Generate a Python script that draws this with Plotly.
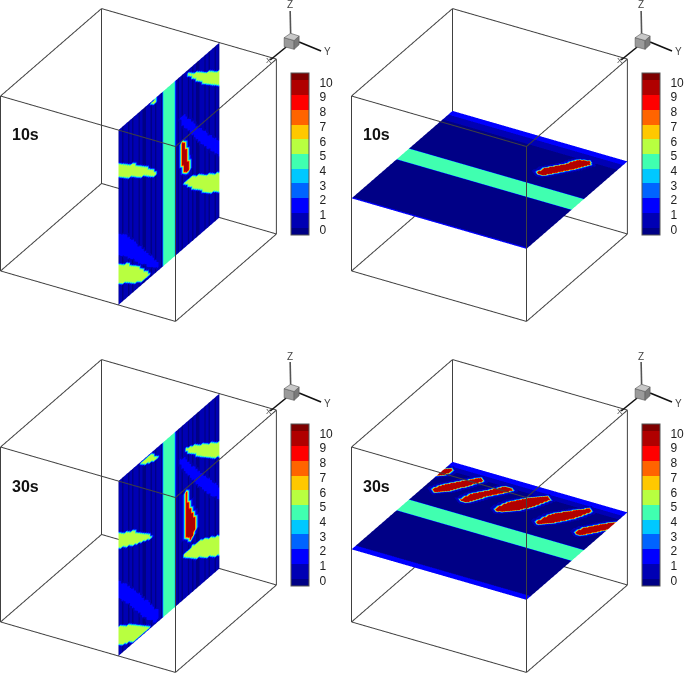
import numpy as np
import plotly.graph_objects as go

W, H = 685, 673

# ---- colour legend ----
LEVELS = list(range(11))
BAND_COLORS = ["#000086", "#0000b4", "#0000ff", "#0064ff", "#00c8ff", "#40ffb0",
               "#b8ff40", "#ffc800", "#ff6400", "#ff0000", "#b00000", "#7f0000"]
TIMES = ["10s", "10s", "30s", "30s"]

# ---- values of the features ----
BASE = -0.25
BAND = 4.5
LIME = 5.5
BLUE = 1.5
MID = 0.5
RED = 9.5
RIM = 3.5
BAND_U = [0.447, 0.570]
PLANE_Y = 0.674   # vertical slice position
PLANE_Z = 0.415   # horizontal slice position
# faint column shading of the vertical slices, read across the slice (0 darker, 1 lighter)
V_COLUMN_SHADE = "01011010110100110101101001011010110101001101011010"

# ---- vertical slice, 10 s: (u along slice, z) ----
V10_LIME_A = [(.672,.991),(1.01,.835),(1.01,.744),(.904,.801),(.772,.894),(.699,.959)]
V10_LIME_B = [(.318,.985),(.368,1.01),(.368,.968),(.331,.975)]
V10_LIME_C = [(-.01,.814),(.159,.728),(.291,.644),(.384,.568),(.374,.550),(.225,.620),(-.01,.731)]
V10_LIME_D = [(.642,.374),(.738,.370),(1.01,.252),(1.01,.140),(.887,.196),(.738,.294)]
V10_LIME_E = [(-.01,.239),(.093,.190),(.225,.102),(.325,.011),(.225,.016),(-.01,.127)]
V10_BLUE_F = [(.606,.767),(.656,.762),(.821,.595),(1.01,.431),(1.01,.342),(.821,.510),(.689,.651),(.623,.721)]
V10_BLUE_G = [(-.01,.412),(.076,.365),(.258,.189),(.407,.030),(.397,.007),(.225,.120),(.093,.224),(-.01,.288)]
V10_BLUE_H = [(.623,.636),(.675,.604),(.728,.460),(.705,.396),(.639,.428),(.606,.521)]
V10_RED_H = [(.639,.618),(.662,.597),(.689,.499),(.705,.415),(.662,.421),(.639,.447),(.623,.512),(.616,.611)]

# ---- vertical slice, 30 s ----
V30_LIME_A = [(.639,.865),(.738,.835),(1.01,.721),(1.01,.630),(.854,.707),(.705,.804)]
V30_LIME_B = [(.209,.996),(.341,.993),(.391,.940),(.364,.930),(.242,.972)]
V30_LIME_C = [(-.01,.706),(.142,.645),(.291,.556),(.351,.501),(.258,.527),(.126,.568),(-.01,.620)]
V30_LIME_D = [(.632,.255),(.738,.266),(.854,.247),(1.01,.184),(1.01,.070),(.821,.149),(.689,.214)]
V30_LIME_E = [(-.01,.175),(.109,.126),(.225,.068),(.325,.009),(.142,.009),(.043,.045),(-.01,.066)]
V30_BLUE_F = [(.599,.818),(.649,.813),(.788,.668),(1.01,.459),(1.01,.383),(.854,.513),(.722,.653),(.623,.769)]
V30_BLUE_G = [(-.01,.440),(.076,.374),(.225,.234),(.391,.067),(.397,.017),(.358,.008),(.225,.120),(.093,.252),(-.01,.336)]
V30_RED_H = [(.652,.606),(.675,.600),(.705,.500),(.762,.406),(.772,.345),(.712,.307),(.672,.346),(.672,.441),(.672,.498)]

# ---- horizontal slice, 10 s: (s across, y along) ----
H10_BLOB = [(.680,.675),(.737,.686),(.820,.752),(.888,.790),(.902,.842),(.874,.846),(.802,.801),(.746,.757),(.676,.702)]
H10_BACK_MID = [(.90,-.01),(.90,1.01),(1.01,1.01),(1.01,-.01)]
H10_BACK_BRIGHT = [(.955,-.01),(.955,1.01),(1.01,1.01),(1.01,-.01)]
H10_FRONT_EDGE = [(-.01,-.01),(-.01,1.01),(.008,1.01),(.008,-.01)]

# ---- horizontal slice, 30 s ----
H30_BLOB_1 = [(.847,-.01),(.900,-.01),(.935,.028),(.908,.034),(.859,.015)]
H30_BLOB_2 = [(.714,.056),(.771,.075),(.855,.141),(.928,.203),(.911,.219),(.828,.175),(.736,.114),(.702,.076)]
H30_BLOB_3 = [(.697,.228),(.772,.246),(.842,.301),(.908,.349),(.914,.393),(.875,.378),(.791,.311),(.697,.261)]
H30_BLOB_4 = [(.700,.421),(.791,.445),(.874,.511),(.937,.580),(.916,.598),(.819,.562),(.737,.505),(.694,.444)]
H30_BLOB_5 = [(.693,.664),(.796,.690),(.874,.760),(.935,.820),(.917,.834),(.817,.793),(.730,.728),(.686,.677)]
H30_BLOB_6 = [(.702,.881),(.763,.900),(.833,.955),(.891,1.01),(.824,1.01),(.759,.960),(.689,.905)]
H30_BACK_MID = [(.92,-.01),(.92,1.01),(1.01,1.01),(1.01,-.01)]
H30_BACK_BRIGHT = [(.96,-.01),(.96,1.01),(1.01,1.01),(1.01,-.01)]
H30_FRONT_EDGE = [(-.01,-.01),(-.01,1.01),(.04,1.01),(.04,-.01)]


def inside(poly, a, b):
    pa, pb = np.array(poly).T
    res = np.zeros(a.shape, bool)
    n = len(pa)
    for i in range(n):
        j = (i - 1) % n
        cond = (pb[i] > b) != (pb[j] > b)
        xc = (pa[j] - pa[i]) * (b - pb[i]) / (pb[j] - pb[i] + 1e-12) + pa[i]
        res ^= cond & (a < xc)
    return res


def grow(mask, n):
    m = mask.copy()
    for _ in range(n):
        g = m.copy()
        g[1:, :] |= m[:-1, :]
        g[:-1, :] |= m[1:, :]
        g[:, 1:] |= m[:, :-1]
        g[:, :-1] |= m[:, 1:]
        m = g
    return m


def raster(a, b, layers, base=None):
    """layers: (polygon, value) or (polygon, value, cells of outward growth)"""
    vals = np.full(a.shape, BASE) if base is None else base.copy()
    for item in layers:
        mask = inside(item[0], a, b)
        if len(item) > 2:
            mask = grow(mask, item[2])
        vals[mask] = item[1]
    return vals


def colorscale():
    lo, hi = -0.5, 10.5
    edges = [lo] + LEVELS + [hi]
    cs = []
    for k, c in enumerate(BAND_COLORS):
        cs.append([(edges[k] - lo) / (hi - lo), c])
        cs.append([(edges[k + 1] - lo) / (hi - lo), c])
    return cs


def box_trace(scene):
    xs, ys, zs = [], [], []
    c = [0, 1]
    for a in c:
        for b in c:
            xs += [0, 1, None]; ys += [a, a, None]; zs += [b, b, None]
            xs += [a, a, None]; ys += [0, 1, None]; zs += [b, b, None]
            xs += [a, a, None]; ys += [b, b, None]; zs += [0, 1, None]
    return go.Scatter3d(x=xs, y=ys, z=zs, mode="lines", scene=scene, showlegend=False,
                        line=dict(color="#404040", width=2), hoverinfo="skip")


def cbar(left, top):
    return dict(x=left / W, xanchor="left", xpad=0, ypad=0,
                y=1 - (top + 81) / H, yanchor="middle", len=162, lenmode="pixels",
                thickness=18, thicknessmode="pixels", outlinecolor="#555", outlinewidth=1,
                tickmode="array", tickvals=[k - 0.14 for k in LEVELS], ticktext=[str(k) for k in LEVELS],
                ticks="outside", ticklen=8, tickwidth=0, tickcolor="rgba(0,0,0,0)",
                tickfont=dict(family="Liberation Sans", size=12, color="#222"))


SURF = dict(cmin=-0.5, cmax=10.5, colorscale=colorscale(), hoverinfo="skip",
            lighting=dict(ambient=1, diffuse=0, specular=0, roughness=1, fresnel=0))

fig = go.Figure()

NU, NZ = 50, 88
NS, NY = 130, 110
band = [(BAND_U[0], -.01), (BAND_U[0], 1.01), (BAND_U[1], 1.01), (BAND_U[1], -.01)]

# vertical slices
u, z = np.meshgrid(np.linspace(0, 1, NU), np.linspace(0, 1, NZ))
v_base = np.tile([MID if c == "1" else BASE for c in V_COLUMN_SHADE], (NZ, 1))
v10 = raster(u, z, [(V10_BLUE_F, BLUE), (V10_BLUE_G, BLUE), (V10_BLUE_H, BLUE), (V10_LIME_A, LIME), (V10_LIME_B, LIME),
                    (V10_LIME_C, LIME), (V10_LIME_D, LIME), (V10_LIME_E, LIME),
                    (V10_RED_H, RIM, 1), (V10_RED_H, RED), (band, BAND)], base=v_base)
v30 = raster(u, z, [(V30_BLUE_F, BLUE), (V30_BLUE_G, BLUE), (V30_LIME_A, LIME), (V30_LIME_B, LIME), (V30_LIME_C, LIME),
                    (V30_LIME_D, LIME), (V30_LIME_E, LIME), (V30_RED_H, MID, 2), (V30_RED_H, RIM, 1), (V30_RED_H, RED), (band, BAND)], base=v_base)


def blob_layers(poly):
    return [(poly, MID, 4), (poly, RIM, 2), (poly, RED, 1)]


# horizontal slices
s, y = np.meshgrid(np.linspace(0, 1, NS), np.linspace(0, 1, NY))
h10 = raster(s, y, [(H10_BACK_MID, MID), (H10_BACK_BRIGHT, BLUE), (H10_FRONT_EDGE, BLUE), (band, BAND)]
             + blob_layers(H10_BLOB))
h30 = raster(s, y, [(H30_BACK_MID, MID), (H30_BACK_BRIGHT, BLUE), (H30_FRONT_EDGE, BLUE), (band, BAND)]
             + sum((blob_layers(b) for b in (H30_BLOB_1, H30_BLOB_2, H30_BLOB_3, H30_BLOB_4, H30_BLOB_5, H30_BLOB_6)), []))

PANELS = [
    ("scene", "v", v10, 292, 73),
    ("scene2", "h", h10, 644, 73),
    ("scene3", "v", v30, 292, 424),
    ("scene4", "h", h30, 644, 424),
]
for name, kind, vals, cx, cy in PANELS:
    if kind == "v":
        fig.add_trace(go.Surface(x=1 - u, y=np.full(u.shape, PLANE_Y), z=z, surfacecolor=vals,
                                 scene=name, colorbar=cbar(cx, cy), showscale=True, **SURF))
    else:
        fig.add_trace(go.Surface(x=1 - s, y=y, z=np.full(s.shape, PLANE_Z), surfacecolor=vals,
                                 scene=name, colorbar=cbar(cx, cy), showscale=True, **SURF))
    fig.add_trace(box_trace(name))

SCALE = 1.289
DOMX = [(0, 278), (352.5, 630.5), (0, 278), (352.5, 630.5)]
DOMY = [(8, 322), (8, 322), (359, 673), (359, 673)]
ax = dict(visible=False, range=[-0.001, 1.001], autorange=False)
layout = {}
for i, (name, *_rest) in enumerate(PANELS):
    layout[name] = dict(
        domain=dict(x=[DOMX[i][0] / W, DOMX[i][1] / W], y=[1 - DOMY[i][1] / H, 1 - DOMY[i][0] / H]),
        xaxis=ax, yaxis=ax, zaxis=ax, aspectmode="manual", aspectratio=dict(x=SCALE, y=SCALE, z=SCALE),
        camera=dict(eye=dict(x=.75 * 2, y=.433 * 2, z=.5 * 2), up=dict(x=0, y=0, z=1),
                    center=dict(x=0, y=0, z=0), projection=dict(type="orthographic")))

# triad marks and labels
shapes, ann = [], []


def poly(points, fill, ox, oy):
    path = "M" + "L".join(f"{(px + ox) / W},{1 - (py + oy) / H}" for px, py in points) + "Z"
    shapes.append(dict(type="path", xref="paper", yref="paper", path=path, fillcolor=fill,
                       line=dict(color="#555", width=0.6), layer="above"))


def seg(a, b, color, ox, oy):
    shapes.append(dict(type="line", xref="paper", yref="paper", x0=(a[0] + ox) / W, y0=1 - (a[1] + oy) / H,
                       x1=(b[0] + ox) / W, y1=1 - (b[1] + oy) / H, line=dict(color=color, width=1.6), layer="above"))


def label(text, px, py, size=10, bold=False, color="#444"):
    ann.append(dict(text=f"<b>{text}</b>" if bold else text, xref="paper", yref="paper", x=px / W, y=1 - py / H,
                    showarrow=False, xanchor="center", yanchor="middle",
                    font=dict(family="Liberation Sans", size=size, color=color)))


OFFS = [(0, 0), (352, 0), (0, 351), (352, 351)]
for (ox, oy), t in zip(OFFS, TIMES):
    seg((291.5, 34), (291, 11), "#555", ox, oy)
    seg((300, 42), (322, 51), "#111", ox, oy)
    seg((287, 47), (271, 60), "#111", ox, oy)
    poly([(285, 37.7), (295, 40.5), (295, 49.3), (285, 46.7)], "#9a9a9a", ox, oy)
    poly([(295, 40.5), (300, 36), (300, 44.7), (295, 49.3)], "#7a7a7a", ox, oy)
    poly([(285, 37.7), (291.5, 33.3), (300, 36), (295, 40.5)], "#c8c8c8", ox, oy)
    label("Z", 290.5 + ox, 5 + oy)
    label("Y", 328 + ox, 52 + oy)
    label("X", 270 + ox, 60 + oy, size=8)
    label(t, 25.5 + ox, 135 + oy, size=16, bold=True, color="#111")

fig.update_layout(width=W, height=H, margin=dict(l=0, r=0, t=0, b=0), autosize=False,
                  paper_bgcolor="white", showlegend=False, shapes=shapes, annotations=ann, **layout)
fig.write_html("out.html", config=dict(displayModeBar=False),
               post_script="document.body.style.margin='0';document.documentElement.style.overflow='hidden';")
